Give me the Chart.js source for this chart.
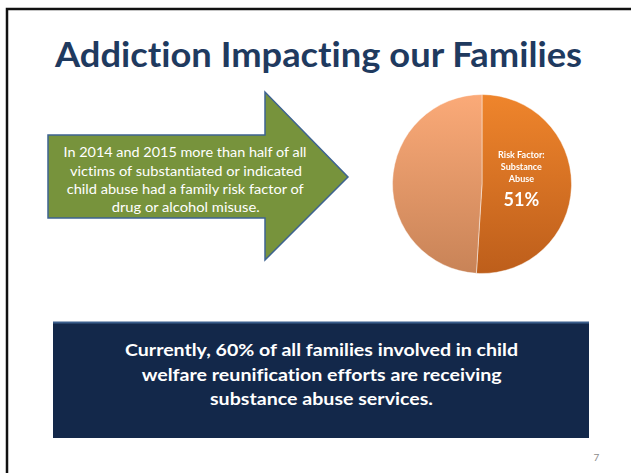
<!DOCTYPE html>
<html>
<head>
<meta charset="utf-8">
<script src="https://cdn.jsdelivr.net/npm/chart.js@4.4.1/dist/chart.umd.min.js"></script>
<style>
  html, body { margin: 0; padding: 0; background: #ffffff; }
  #slide { position: relative; width: 631px; height: 473px; overflow: hidden; background: #fff; }
  #deco { position: absolute; left: 0; top: 0; }
  #deco text { font-variant-ligatures: no-common-ligatures no-discretionary-ligatures; font-feature-settings: "liga" 0, "dlig" 0, "clig" 0; }
  #pieBox { position: absolute; left: 390px; top: 92px; width: 184px; height: 184px; }
</style>
</head>
<body>
<div id="slide">
  <svg id="deco" width="631" height="473" xmlns="http://www.w3.org/2000/svg">
    <!-- slide frame -->
    <polyline points="7,473 7,9 631,9" fill="none" stroke="#111111" stroke-width="2.5"/>
    <!-- title -->
    <text x="55" y="67" font-family="Lato, 'Open Sans', sans-serif" font-weight="bold" font-size="35" fill="#1F3A5F" textLength="527" lengthAdjust="spacingAndGlyphs">Addiction Impacting our Families</text>
    <!-- arrow -->
    <polygon points="48,135 265,135 265,92 348,177 265,260 265,218 48,218" fill="#77933C" stroke="#3E6391" stroke-width="1.5" stroke-linejoin="miter"/>
    <g font-family="Lato, 'Open Sans', sans-serif" font-size="13.5" fill="#ffffff">
      <text x="63.5" y="157" textLength="243" lengthAdjust="spacingAndGlyphs">In 2014 and 2015 more than half of all</text>
      <text x="70" y="175.5" textLength="232" lengthAdjust="spacingAndGlyphs">victims of substantiated or indicated</text>
      <text x="66.7" y="194" textLength="237" lengthAdjust="spacingAndGlyphs">child abuse had a family risk factor of</text>
      <text x="111.7" y="212" textLength="148" lengthAdjust="spacingAndGlyphs">drug or alcohol misuse.</text>
    </g>
    <!-- bottom box -->
    <rect x="53" y="323" width="536" height="115" fill="#13284A"/>
    <line x1="53" y1="322.5" x2="589" y2="322.5" stroke="#3B5E8C" stroke-width="2"/>
    <g font-family="Lato, 'Open Sans', sans-serif" font-weight="bold" font-size="17" fill="#ffffff">
      <text x="125" y="356" textLength="393" lengthAdjust="spacingAndGlyphs">Currently, 60% of all families involved in child</text>
      <text x="141.7" y="380.5" textLength="360" lengthAdjust="spacingAndGlyphs">welfare reunification efforts are receiving</text>
      <text x="210" y="405" textLength="223" lengthAdjust="spacingAndGlyphs">substance abuse services.</text>
    </g>
    <!-- page number -->
    <text x="593.5" y="461" font-family="Lato, sans-serif" font-size="10" fill="#8C8C8C">7</text>
  </svg>
  <div id="pieBox"><canvas id="pie"></canvas></div>
</div>
<script>
// ---- data ----
const categories = ['Risk Factor: Substance Abuse', 'Other'];
const values = [51, 49];
const sliceLabelLines = ['Risk Factor:', 'Substance', 'Abuse'];
const sliceValueLabel = '51%';

// ---- styling helpers ----
const sliceColors = [
  ['#EF852C', '#BD5E1B'],
  ['#FBAA78', '#C88357']
];
function vGrad(context, idx) {
  const chart = context.chart;
  const area = chart.chartArea;
  const pair = sliceColors[idx % sliceColors.length];
  if (!area) return pair[0];
  const g = chart.ctx.createLinearGradient(0, area.top, 0, area.bottom);
  g.addColorStop(0, pair[0]);
  g.addColorStop(1, pair[1]);
  return g;
}

const sliceLabelPlugin = {
  id: 'sliceLabel',
  afterDatasetsDraw(chart) {
    const arc = chart.getDatasetMeta(0).data[0];
    if (!arc) return;
    const ctx = chart.ctx;
    const r = arc.outerRadius;
    const x = arc.x + r * 0.44;
    ctx.save();
    ctx.fillStyle = '#ffffff';
    ctx.textAlign = 'center';
    ctx.textBaseline = 'alphabetic';
    ctx.font = 'bold 9px Lato, "Open Sans", sans-serif';
    const offs = [-26.5, -14, -2];
    sliceLabelLines.forEach((t, i) => ctx.fillText(t, x, arc.y + offs[i]));
    ctx.font = 'bold 18px Lato, "Open Sans", sans-serif';
    ctx.fillText(sliceValueLabel, x, arc.y + 22);
    ctx.restore();
  }
};

new Chart(document.getElementById('pie'), {
  type: 'pie',
  data: {
    labels: categories,
    datasets: [{
      data: values,
      backgroundColor: (c) => vGrad(c, c.dataIndex),
      borderColor: 'rgba(255,255,255,0.45)',
      borderWidth: 1
    }]
  },
  options: {
    responsive: true,
    maintainAspectRatio: false,
    animation: false,
    events: [],
    layout: { padding: 2 },
    plugins: {
      legend: { display: false },
      tooltip: { enabled: false }
    }
  },
  plugins: [sliceLabelPlugin]
});
</script>
</body>
</html>
